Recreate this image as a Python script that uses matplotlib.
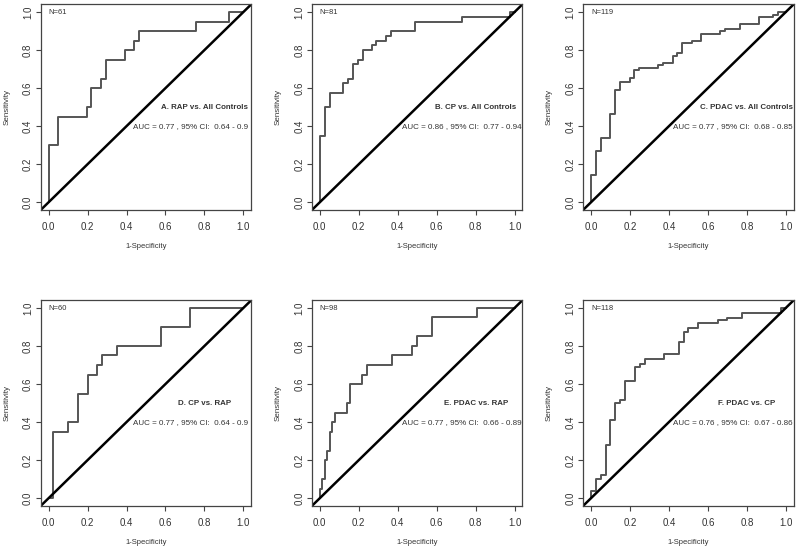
import matplotlib
matplotlib.use("Agg")
import matplotlib.pyplot as plt

plt.rcParams["font.family"] = ["Liberation Sans", "DejaVu Sans"]

# ROC step points: (1-specificity, sensitivity) at each step
fpr_a = [0, 0, 0.048, 0.048, 0.195, 0.195, 0.22, 0.22, 0.268, 0.268, 0.293, 0.293,
         0.39, 0.39, 0.44, 0.44, 0.463, 0.463, 0.756, 0.756, 0.927, 0.927, 1.0]
tpr_a = [0, 0.30, 0.30, 0.45, 0.45, 0.50, 0.50, 0.60, 0.60, 0.65, 0.65, 0.75,
         0.75, 0.80, 0.80, 0.85, 0.85, 0.90, 0.90, 0.95, 0.95, 1.0, 1.0]

fpr_b = [0, 0, 0.027, 0.027, 0.05, 0.05, 0.12, 0.12, 0.146, 0.146, 0.17, 0.17,
         0.195, 0.195, 0.22, 0.22, 0.27, 0.27, 0.29, 0.29, 0.34, 0.34, 0.366, 0.366,
         0.488, 0.488, 0.732, 0.732, 0.976, 0.976, 1.0]
tpr_b = [0, 0.35, 0.35, 0.50, 0.50, 0.575, 0.575, 0.625, 0.625, 0.65, 0.65, 0.725,
         0.725, 0.75, 0.75, 0.80, 0.80, 0.825, 0.825, 0.85, 0.85, 0.875, 0.875, 0.90,
         0.90, 0.95, 0.95, 0.975, 0.975, 1.0, 1.0]

fpr_c = [0, 0, 0.024, 0.024, 0.05, 0.05, 0.10, 0.10, 0.123, 0.123, 0.147, 0.147,
         0.199, 0.199, 0.223, 0.223, 0.247, 0.247, 0.346, 0.346, 0.37, 0.37,
         0.42, 0.42, 0.44, 0.44, 0.467, 0.467, 0.517, 0.517, 0.565, 0.565,
         0.664, 0.664, 0.688, 0.688, 0.764, 0.764, 0.861, 0.861, 0.935, 0.935,
         0.96, 0.96, 1.0]
tpr_c = [0, 0.142, 0.142, 0.268, 0.268, 0.336, 0.336, 0.462, 0.462, 0.59, 0.59, 0.632,
         0.632, 0.655, 0.655, 0.695, 0.695, 0.705, 0.705, 0.72, 0.72, 0.734,
         0.734, 0.77, 0.77, 0.785, 0.785, 0.835, 0.835, 0.845, 0.845, 0.886,
         0.886, 0.90, 0.90, 0.912, 0.912, 0.937, 0.937, 0.975, 0.975, 0.985,
         0.985, 1.0, 1.0]

fpr_d = [0, 0.025, 0.025, 0.10, 0.10, 0.15, 0.15, 0.20, 0.20, 0.25, 0.25, 0.275,
         0.275, 0.35, 0.35, 0.575, 0.575, 0.725, 0.725, 1.0]
tpr_d = [0, 0, 0.35, 0.35, 0.40, 0.40, 0.55, 0.55, 0.65, 0.65, 0.70, 0.70,
         0.75, 0.75, 0.80, 0.80, 0.90, 0.90, 1.0, 1.0]

fpr_e = [0, 0, 0.013, 0.013, 0.026, 0.026, 0.038, 0.038, 0.051, 0.051, 0.064, 0.064,
         0.077, 0.077, 0.141, 0.141, 0.154, 0.154, 0.218, 0.218, 0.244, 0.244,
         0.372, 0.372, 0.474, 0.474, 0.50, 0.50, 0.577, 0.577, 0.808, 0.808, 1.0]
tpr_e = [0, 0.05, 0.05, 0.10, 0.10, 0.20, 0.20, 0.25, 0.25, 0.35, 0.35, 0.40,
         0.40, 0.45, 0.45, 0.50, 0.50, 0.60, 0.60, 0.65, 0.65, 0.70,
         0.70, 0.75, 0.75, 0.80, 0.80, 0.85, 0.85, 0.95, 0.95, 1.0, 1.0]

fpr_f = [0, 0, 0.025, 0.025, 0.05, 0.05, 0.075, 0.075, 0.10, 0.10, 0.125, 0.125,
         0.15, 0.15, 0.175, 0.175, 0.225, 0.225, 0.25, 0.25, 0.275, 0.275,
         0.375, 0.375, 0.45, 0.45, 0.475, 0.475, 0.50, 0.50, 0.55, 0.55,
         0.65, 0.65, 0.70, 0.70, 0.775, 0.775, 0.975, 0.975, 1.0]
tpr_f = [0, 0.037, 0.037, 0.10, 0.10, 0.124, 0.124, 0.282, 0.282, 0.41, 0.41, 0.50,
         0.50, 0.515, 0.515, 0.615, 0.615, 0.69, 0.69, 0.705, 0.705, 0.73,
         0.73, 0.757, 0.757, 0.82, 0.82, 0.872, 0.872, 0.897, 0.897, 0.923,
         0.923, 0.936, 0.936, 0.949, 0.949, 0.974, 0.974, 1.0, 1.0]

titles = ["A. RAP vs. All Controls", "B. CP vs. All Controls", "C. PDAC vs. All Controls",
          "D. CP vs. RAP", "E. PDAC vs. RAP", "F. PDAC vs. CP"]
n_labels = ["N=61", "N=81", "N=119", "N=60", "N=98", "N=118"]
auc_labels = ["AUC = 0.77 , 95% CI:  0.64 - 0.9",
              "AUC = 0.86 , 95% CI:  0.77 - 0.94",
              "AUC = 0.77 , 95% CI:  0.68 - 0.85",
              "AUC = 0.77 , 95% CI:  0.64 - 0.9",
              "AUC = 0.77 , 95% CI:  0.66 - 0.89",
              "AUC = 0.76 , 95% CI:  0.67 - 0.86"]
curves = [(fpr_a, tpr_a), (fpr_b, tpr_b), (fpr_c, tpr_c),
          (fpr_d, tpr_d), (fpr_e, tpr_e), (fpr_f, tpr_f)]
ticks = [0.0, 0.2, 0.4, 0.6, 0.8, 1.0]

fig = plt.figure(figsize=(8, 5.48), dpi=100)
lefts = [0.051, 0.390, 0.729]
bottoms = [0.617, 0.077]
frame = "#444444"
txt = "#333333"

for i in range(6):
    r, c = divmod(i, 3)
    ax = fig.add_axes([lefts[c], bottoms[r], 0.263, 0.375])
    fpr, tpr = curves[i]
    ax.plot(fpr, tpr, color="#555555", lw=1.4)
    ax.axline((0, 0), (1, 1), color="black", lw=1.8)
    ax.set_xlim(-0.04, 1.04)
    ax.set_ylim(-0.04, 1.04)
    ax.set_xticks(ticks)
    ax.set_yticks(ticks)
    ax.set_xticklabels([f"{t:.1f}" for t in ticks])
    ax.set_yticklabels([f"{t:.1f}" for t in ticks], rotation=90, va="center")
    ax.tick_params(direction="out", length=3.6, width=0.8, colors=frame,
                   labelcolor=txt, labelsize=7)
    ax.tick_params(axis="x", pad=5)
    ax.tick_params(axis="y", pad=2)
    for s in ax.spines.values():
        s.set_color(frame)
        s.set_linewidth(0.9)
    ax.set_xlabel("1-Specificity", fontsize=5.5, color=txt, labelpad=8)
    ax.set_ylabel("Sensitivity", fontsize=5.8, color=txt, labelpad=9)
    ax.text(0.0, 0.995, n_labels[i], fontsize=5.5, color=txt, va="center", ha="left")
    ax.text(0.80, 0.50, titles[i], fontsize=5.7, fontweight="bold", color=txt,
            ha="center", va="center")
    ax.text(0.73, 0.40, auc_labels[i], fontsize=5.8, color=txt,
            ha="center", va="center")

fig.savefig("out.png", dpi=100)
